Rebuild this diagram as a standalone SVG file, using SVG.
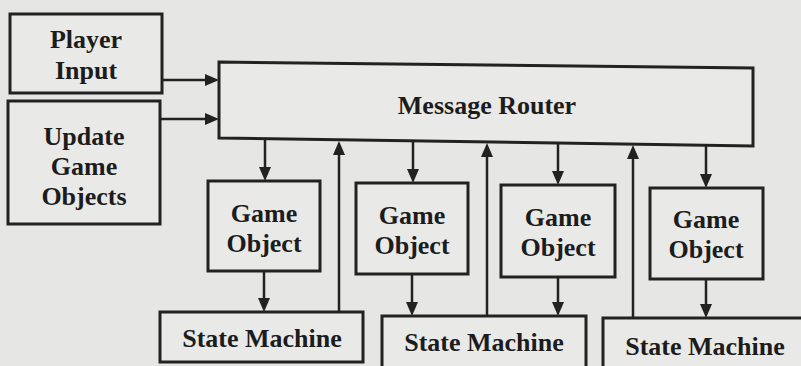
<svg xmlns="http://www.w3.org/2000/svg" width="801" height="366" viewBox="0 0 801 366">
<defs>
<style>
.box{fill:#e9e9e7;stroke:#222;stroke-width:3}
.t{font-family:'Liberation Serif','Times New Roman',serif;font-weight:700;font-size:26px;fill:#1c1c1c;text-anchor:middle}
.c{stroke:#222;stroke-width:2.5;fill:none}
.h{fill:#222}
</style>
</defs>
<rect width="801" height="366" fill="#e6e6e4"/>
<g id="player-input">
<rect class="box" x="10" y="14" width="152" height="79"/>
<text class="t" x="86" y="48">Player</text>
<text class="t" x="86" y="79">Input</text>
</g>
<g id="update-game-objects">
<rect class="box" x="8" y="101" width="152" height="123"/>
<text class="t" x="84" y="145">Update</text>
<text class="t" x="84" y="175">Game</text>
<text class="t" x="84" y="205">Objects</text>
</g>
<g id="message-router">
<polygon class="box" points="219,62 753,68 753,146 219,138"/>
<text class="t" x="487" y="114">Message Router</text>
</g>
<g id="game-object-1">
<rect class="box" x="208" y="181" width="112" height="90"/>
<text class="t" x="264" y="222">Game</text>
<text class="t" x="264" y="252">Object</text>
</g>
<g id="game-object-2">
<rect class="box" x="356" y="183" width="112" height="91"/>
<text class="t" x="412" y="224">Game</text>
<text class="t" x="412" y="254">Object</text>
</g>
<g id="game-object-3">
<rect class="box" x="501" y="185" width="114" height="92"/>
<text class="t" x="558" y="226">Game</text>
<text class="t" x="558" y="256">Object</text>
</g>
<g id="game-object-4">
<rect class="box" x="650" y="188" width="113" height="91"/>
<text class="t" x="706" y="228">Game</text>
<text class="t" x="706" y="258">Object</text>
</g>
<g id="state-machine-1">
<rect class="box" x="160" y="312" width="203" height="50"/>
<text class="t" x="262" y="347">State Machine</text>
</g>
<g id="state-machine-2">
<rect class="box" x="382" y="316" width="204" height="52"/>
<text class="t" x="484" y="351">State Machine</text>
</g>
<g id="state-machine-3">
<rect class="box" x="603" y="318" width="210" height="52"/>
<text class="t" x="705" y="355">State Machine</text>
</g>
<g id="connectors">
<line class="c" x1="162" y1="80" x2="206" y2="80"/>
<path class="h" d="M205,74 L219,80 L205,86 z"/>
<line class="c" x1="160" y1="119" x2="206" y2="119"/>
<path class="h" d="M205,113 L219,119 L205,125 z"/>
<line class="c" x1="265" y1="139" x2="265" y2="168"/>
<path class="h" d="M259,167 L265,181 L271,167 z"/>
<line class="c" x1="413" y1="141" x2="413" y2="170"/>
<path class="h" d="M407,169 L413,183 L419,169 z"/>
<line class="c" x1="558" y1="143" x2="558" y2="172"/>
<path class="h" d="M552,171 L558,185 L564,171 z"/>
<line class="c" x1="706" y1="146" x2="706" y2="175"/>
<path class="h" d="M700,174 L706,188 L712,174 z"/>
<line class="c" x1="339" y1="312" x2="339" y2="153"/>
<path class="h" d="M333,155 L339,141 L345,155 z"/>
<line class="c" x1="487" y1="316" x2="487" y2="155"/>
<path class="h" d="M481,157 L487,143 L493,157 z"/>
<line class="c" x1="633" y1="318" x2="633" y2="157"/>
<path class="h" d="M627,159 L633,145 L639,159 z"/>
<line class="c" x1="264" y1="271" x2="264" y2="299"/>
<path class="h" d="M258,298 L264,312 L270,298 z"/>
<line class="c" x1="412" y1="274" x2="412" y2="303"/>
<path class="h" d="M406,302 L412,316 L418,302 z"/>
<line class="c" x1="558" y1="277" x2="558" y2="303"/>
<path class="h" d="M552,302 L558,316 L564,302 z"/>
<line class="c" x1="706" y1="279" x2="706" y2="305"/>
<path class="h" d="M700,304 L706,318 L712,304 z"/>
</g>
</svg>
